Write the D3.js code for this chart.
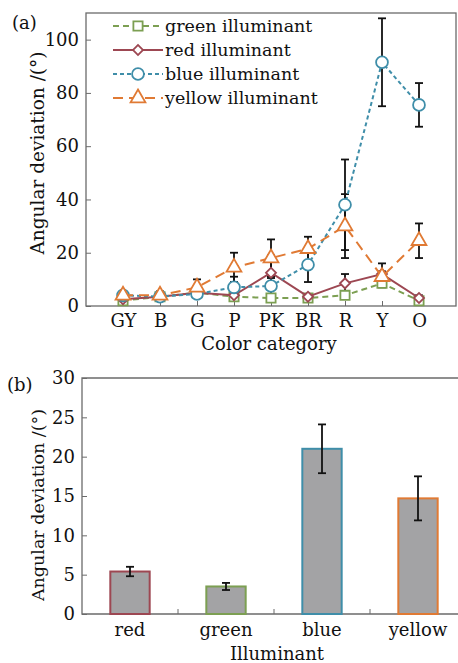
<!DOCTYPE html>
<html>
<head>
<meta charset="utf-8">
<script src="https://cdn.jsdelivr.net/npm/d3@7"></script>
<style>
  body { margin: 0; background: #fff; }
  svg text { font-family: "DejaVu Serif", serif; fill: #111; }
</style>
</head>
<body>
<div id="chart"></div>
<script>
// color categories and series for panel (a)
const categories = ["GY", "B", "G", "P", "PK", "BR", "R", "Y", "O"];
const greenVals  = [2, 3.5, 5, 3.5, 3, 3, 4, 8.5, 2];
const greenErr   = [1, 1, 1, 1, 1, 1, 1, 1.5, 1];
const redVals    = [2.5, 3.5, 5, 4, 12.5, 3.5, 8.5, 12, 3];
const redErr     = [1, 1.5, 1, 1, 6.5, 1, 3.5, 4, 1];
const blueVals   = [4, 3.5, 4.5, 7, 7.5, 15.5, 38, 91.5, 75.5];
const blueErr    = [1, 1.5, 1, 4, 3, 6.5, 17, 16.5, 8.2];
const yellowVals = [4, 4, 7, 14.5, 18, 21.5, 30, 11, 24.5];
const yellowErr  = [1, 1.5, 3, 5.5, 7, 4.5, 12, 2, 6.5];
const yTicksA = [0, 20, 40, 60, 80, 100];

// panel (b)
const illuminants = ["red", "green", "blue", "yellow"];
const meanVals = [5.4, 3.5, 21, 14.7];
const meanErr  = [0.6, 0.45, 3.1, 2.8];
const yTicksB = [0, 5, 10, 15, 20, 25, 30];

const colors = {
  green: "#7c9f52",
  red: "#9d4752",
  blue: "#3f8ea9",
  yellow: "#e07a34"
};

const W = 458, H = 663;
let svg = d3.select("#chart").append("svg")
    .attr("width", W).attr("height", H);

// ---------- panel (a) ----------
let a = { left: 86, right: 456, top: 13, bottom: 306 };
let x = d3.scalePoint().domain(categories).range([a.left, a.right]).padding(1);
let y = d3.scaleLinear().domain([0, 110]).range([a.bottom, a.top]);

svg.append("rect")
    .attr("x", a.left).attr("y", a.top)
    .attr("width", a.right - a.left).attr("height", a.bottom - a.top)
    .attr("fill", "none").attr("stroke", "#6b6b6b").attr("stroke-width", 1.3);

let yAxisA = svg.append("g")
    .attr("transform", "translate(" + a.left + ",0)")
    .call(d3.axisLeft(y).tickValues(yTicksA).tickSize(-5).tickPadding(7));
let xAxisA = svg.append("g")
    .attr("transform", "translate(0," + a.bottom + ")")
    .call(d3.axisBottom(x).tickSize(-5).tickPadding(8));
[yAxisA, xAxisA].forEach(g => {
  g.select(".domain").remove();
  g.selectAll(".tick line").attr("stroke", "#6b6b6b");
  g.selectAll("text").style("font-size", "18px").attr("fill", "#111");
});

svg.append("text")
    .attr("x", 269).attr("y", 350)
    .attr("text-anchor", "middle")
    .style("font-size", "18px")
    .text("Color category");

svg.append("text")
    .attr("transform", "translate(44,153) rotate(-90)")
    .attr("text-anchor", "middle")
    .style("font-size", "18.5px")
    .text("Angular deviation /(°)");

svg.append("text")
    .attr("x", 12).attr("y", 29)
    .style("font-size", "18px")
    .text("(a)");

let series = [
  { name: "green illuminant", vals: greenVals, err: greenErr, color: colors.green, dash: "6,4", marker: "square" },
  { name: "red illuminant", vals: redVals, err: redErr, color: colors.red, dash: null, marker: "diamond" },
  { name: "blue illuminant", vals: blueVals, err: blueErr, color: colors.blue, dash: "4,3", marker: "circle" },
  { name: "yellow illuminant", vals: yellowVals, err: yellowErr, color: colors.yellow, dash: "10,6", marker: "triangle" }
];

let symbols = {
  square: { d: d3.symbol().type(d3.symbolSquare).size(85)(), rot: 0 },
  diamond: { d: d3.symbol().type(d3.symbolSquare).size(50)(), rot: 45 },
  circle: { d: d3.symbol().type(d3.symbolCircle).size(110)(), rot: 0 },
  triangle: { d: d3.symbol().type(d3.symbolTriangle).size(95)(), rot: 0 }
};

// error bars first
let errG = svg.append("g").attr("stroke", "#111").attr("stroke-width", 1.8);
series.forEach(s => {
  categories.forEach((c, i) => {
    let cx = x(c), lo = y(s.vals[i] - s.err[i]), hi = y(s.vals[i] + s.err[i]);
    errG.append("line").attr("x1", cx).attr("x2", cx).attr("y1", lo).attr("y2", hi);
    errG.append("line").attr("x1", cx - 4).attr("x2", cx + 4).attr("y1", lo).attr("y2", lo);
    errG.append("line").attr("x1", cx - 4).attr("x2", cx + 4).attr("y1", hi).attr("y2", hi);
  });
});

let line = d3.line().x((d, i) => x(categories[i])).y(d => y(d));
series.forEach(s => {
  svg.append("path")
      .datum(s.vals)
      .attr("d", line)
      .attr("fill", "none")
      .attr("stroke", s.color)
      .attr("stroke-width", 2)
      .attr("stroke-dasharray", s.dash);
  svg.append("g").selectAll("path")
    .data(s.vals)
    .enter().append("path")
      .attr("d", symbols[s.marker].d)
      .attr("transform", (d, i) => "translate(" + x(categories[i]) + "," + y(d) + ") rotate(" + symbols[s.marker].rot + ")")
      .attr("fill", "#fff")
      .attr("stroke", s.color)
      .attr("stroke-width", 1.8);
});

// legend
let legend = svg.append("g");
series.forEach((s, i) => {
  let ly = 26 + i * 24;
  let g = legend.append("g").attr("transform", "translate(0," + ly + ")");
  g.append("line")
      .attr("x1", 113).attr("x2", 163).attr("y1", 0).attr("y2", 0)
      .attr("stroke", s.color).attr("stroke-width", 2)
      .attr("stroke-dasharray", s.dash);
  g.append("path")
      .attr("d", symbols[s.marker].d)
      .attr("transform", "translate(138,0) rotate(" + symbols[s.marker].rot + ")")
      .attr("fill", "#fff").attr("stroke", s.color).attr("stroke-width", 1.8);
  g.append("text")
      .attr("x", 165).attr("y", 6)
      .style("font-size", "17.5px")
      .text(s.name);
});

// ---------- panel (b) ----------
let b = { left: 82, right: 466, top: 378, bottom: 614 };
let xb = d3.scaleBand().domain(illuminants).range([b.left, b.right])
    .paddingInner(0.59).paddingOuter(0.295);
let yb = d3.scaleLinear().domain([0, 30]).range([b.bottom, b.top]);

svg.append("path")
    .attr("d", "M" + b.right + "," + b.top + "H" + b.left + "V" + b.bottom + "H" + b.right)
    .attr("fill", "none").attr("stroke", "#6b6b6b").attr("stroke-width", 1.3);

let yAxisB = svg.append("g")
    .attr("transform", "translate(" + b.left + ",0)")
    .call(d3.axisLeft(yb).tickValues(yTicksB).tickSize(-5).tickPadding(7));
yAxisB.select(".domain").remove();
yAxisB.selectAll(".tick line").attr("stroke", "#6b6b6b");
yAxisB.selectAll("text").style("font-size", "18px").attr("fill", "#111");

// ticks between bars
let step = xb.step();
svg.append("g").selectAll("line")
  .data(illuminants.slice(1))
  .enter().append("line")
    .attr("x1", d => xb(d) - step * xb.paddingInner() / 2)
    .attr("x2", d => xb(d) - step * xb.paddingInner() / 2)
    .attr("y1", b.bottom).attr("y2", b.bottom - 5)
    .attr("stroke", "#6b6b6b");

svg.append("g").selectAll("text")
  .data(illuminants)
  .enter().append("text")
    .attr("x", d => xb(d) + xb.bandwidth() / 2)
    .attr("y", 636)
    .attr("text-anchor", "middle")
    .style("font-size", "18px")
    .text(d => d);

svg.append("g").selectAll("rect")
  .data(illuminants)
  .enter().append("rect")
    .attr("x", d => xb(d))
    .attr("y", (d, i) => yb(meanVals[i]))
    .attr("width", xb.bandwidth())
    .attr("height", (d, i) => yb(0) - yb(meanVals[i]))
    .attr("fill", "#a3a3a5")
    .attr("stroke", d => colors[d])
    .attr("stroke-width", 2);

let errB = svg.append("g").attr("stroke", "#111").attr("stroke-width", 1.8);
illuminants.forEach((d, i) => {
  let cx = xb(d) + xb.bandwidth() / 2;
  let lo = yb(meanVals[i] - meanErr[i]), hi = yb(meanVals[i] + meanErr[i]);
  errB.append("line").attr("x1", cx).attr("x2", cx).attr("y1", lo).attr("y2", hi);
  errB.append("line").attr("x1", cx - 4).attr("x2", cx + 4).attr("y1", lo).attr("y2", lo);
  errB.append("line").attr("x1", cx - 4).attr("x2", cx + 4).attr("y1", hi).attr("y2", hi);
});

svg.append("text")
    .attr("x", 277).attr("y", 660)
    .attr("text-anchor", "middle")
    .style("font-size", "18px")
    .text("Illuminant");

svg.append("text")
    .attr("transform", "translate(44,505) rotate(-90)")
    .attr("text-anchor", "middle")
    .style("font-size", "17.5px")
    .text("Angular deviation /(°)");

svg.append("text")
    .attr("x", 7).attr("y", 391)
    .style("font-size", "18px")
    .text("(b)");
</script>
</body>
</html>
